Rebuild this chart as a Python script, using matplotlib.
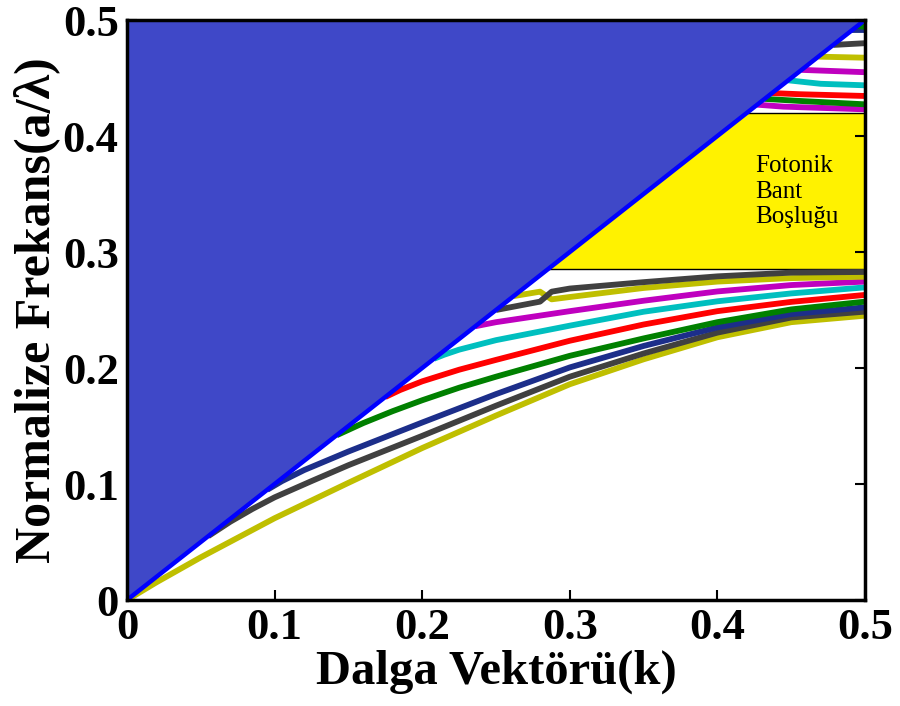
import matplotlib
matplotlib.use("Agg")
import matplotlib.pyplot as plt

plt.rcParams['font.family'] = ['Liberation Serif', 'DejaVu Serif']

# ---------------- data ----------------
tick_vals = [0, 0.1, 0.2, 0.3, 0.4, 0.5]
tick_labels = ['0', '0.1', '0.2', '0.3', '0.4', '0.5']

light_k = [0.0, 0.5]
light_f = [0.0, 0.5]

gap_low = 0.285
gap_high = 0.42

# guided bands below the gap (k, f)
b1_k = [0.0, 0.02, 0.05, 0.1, 0.15, 0.2, 0.25, 0.3, 0.35, 0.4, 0.45, 0.5]
b1_f = [0.0, 0.0153, 0.0368, 0.0705, 0.101, 0.131, 0.159, 0.186, 0.2075, 0.2265, 0.2395, 0.2451]
b2_k = [0.055, 0.07, 0.085, 0.1, 0.125, 0.15, 0.2, 0.25, 0.3, 0.35, 0.4, 0.45, 0.5]
b2_f = [0.055, 0.0675, 0.0785, 0.0885, 0.1025, 0.1162, 0.1415, 0.1675, 0.1925, 0.2125, 0.2305, 0.2435, 0.2486]
b3_k = [0.095, 0.105, 0.12, 0.15, 0.2, 0.25, 0.3, 0.35, 0.4, 0.45, 0.5]
b3_f = [0.095, 0.1025, 0.112, 0.128, 0.153, 0.1775, 0.2005, 0.219, 0.235, 0.2465, 0.2523]
b4_k = [0.142, 0.16, 0.18, 0.2, 0.225, 0.25, 0.3, 0.35, 0.4, 0.45, 0.5]
b4_f = [0.142, 0.1525, 0.1628, 0.1722, 0.1830, 0.1925, 0.2105, 0.2255, 0.2395, 0.2505, 0.2572]
b5_k = [0.175, 0.185, 0.2, 0.225, 0.25, 0.3, 0.35, 0.4, 0.45, 0.5]
b5_f = [0.175, 0.181, 0.1885, 0.1985, 0.207, 0.2235, 0.2375, 0.249, 0.257, 0.263]
b6_k = [0.208, 0.215, 0.225, 0.25, 0.3, 0.35, 0.4, 0.45, 0.5]
b6_f = [0.208, 0.2115, 0.2158, 0.224, 0.2365, 0.2485, 0.2575, 0.2643, 0.2695]
b7_k = [0.236, 0.25, 0.3, 0.35, 0.4, 0.45, 0.5]
b7_f = [0.236, 0.2395, 0.249, 0.258, 0.266, 0.2715, 0.2745]
b8_k = [0.262, 0.2798, 0.2877, 0.3, 0.35, 0.4, 0.45, 0.5]
b8_f = [0.262, 0.2658, 0.2592, 0.2612, 0.269, 0.2745, 0.2775, 0.2787]
b9_k = [0.25, 0.2798, 0.2877, 0.3, 0.35, 0.4, 0.45, 0.5]
b9_f = [0.25, 0.2572, 0.2658, 0.2685, 0.274, 0.279, 0.2822, 0.2828]

# bands above the gap
u1_k = [0.427, 0.4447, 0.5]; u1_f = [0.427, 0.4253, 0.423]
u2_k = [0.432, 0.456, 0.5];  u2_f = [0.432, 0.4302, 0.4273]
u3_k = [0.437, 0.456, 0.5];  u3_f = [0.437, 0.4360, 0.4345]
u4_k = [0.448, 0.47, 0.5];   u4_f = [0.448, 0.4450, 0.4437]
u5_k = [0.457, 0.5];         u5_f = [0.457, 0.4550]
u6_k = [0.4684, 0.5];        u6_f = [0.4684, 0.4675]
u7_k = [0.4785, 0.5];        u7_f = [0.4785, 0.4800]
u8_k = [0.491, 0.5];         u8_f = [0.491, 0.4910]
u9_k = [0.495, 0.5];         u9_f = [0.495, 0.4940]

OLIVE = '#BFBF00'; DGRAY = '#404040'; DBLUE = '#1C2E8A'; GREEN = '#008000'
RED = '#FF0000'; CYAN = '#00BFBF'; MAG = '#BF00BF'

lower = [(b1_k, b1_f, OLIVE), (b2_k, b2_f, DGRAY), (b3_k, b3_f, DBLUE),
         (b4_k, b4_f, GREEN), (b5_k, b5_f, RED), (b6_k, b6_f, CYAN),
         (b7_k, b7_f, MAG), (b8_k, b8_f, OLIVE), (b9_k, b9_f, DGRAY)]
upper = [(u1_k, u1_f, MAG), (u2_k, u2_f, GREEN), (u3_k, u3_f, RED),
         (u4_k, u4_f, CYAN), (u5_k, u5_f, MAG), (u6_k, u6_f, OLIVE),
         (u7_k, u7_f, DGRAY), (u8_k, u8_f, DBLUE), (u9_k, u9_f, GREEN)]

# ---------------- figure ----------------
fig = plt.figure(figsize=(9.0, 7.06), dpi=100)
ax = fig.add_axes([127/900, 106/706, 738/900, 580/706])

# photonic band gap
ax.fill_between([gap_low, 0.5], [gap_low, gap_low], [gap_high, gap_high],
                color='#FFF200', zorder=1, linewidth=0)
ax.plot([gap_low, 0.5], [gap_low, gap_low], color='black', lw=1.0, zorder=2)
ax.plot([gap_high, 0.5], [gap_high, gap_high], color='black', lw=1.0, zorder=2)

for kk, ff, c in lower + upper:
    ax.plot(kk, ff, color=c, lw=4.2, solid_capstyle='butt',
            solid_joinstyle='round', zorder=3)

# light cone
ax.fill_between(light_k, light_f, [0.5, 0.5], color='#3F48C8', zorder=4, linewidth=0)
ax.plot(light_k, light_f, color='#0000FF', lw=3.2, zorder=5)

ax.text(0.4255, 0.352, 'Fotonik\nBant\nBoşluğu', fontsize=18, va='center',
        ha='left', linespacing=1.2, zorder=6)

ax.set_xlim(0, 0.5)
ax.set_ylim(0, 0.5)
ax.set_xticks(tick_vals)
ax.set_xticklabels(tick_labels)
ax.set_yticks(tick_vals)
ax.set_yticklabels(tick_labels)
ax.tick_params(direction='in', length=7, width=1.5, top=True, right=True,
               labelsize=32, pad=6)
for lab in ax.get_xticklabels() + ax.get_yticklabels():
    lab.set_fontweight('bold')
for s in ax.spines.values():
    s.set_linewidth(2.5)
    s.set_zorder(10)

ax.set_xlabel('Dalga Vektörü(k)', fontsize=35, fontweight='bold', labelpad=1)
ax.set_ylabel('Normalize Frekans(a/λ)', fontsize=36, fontweight='bold', labelpad=2)

fig.savefig('out.png', dpi=100)
